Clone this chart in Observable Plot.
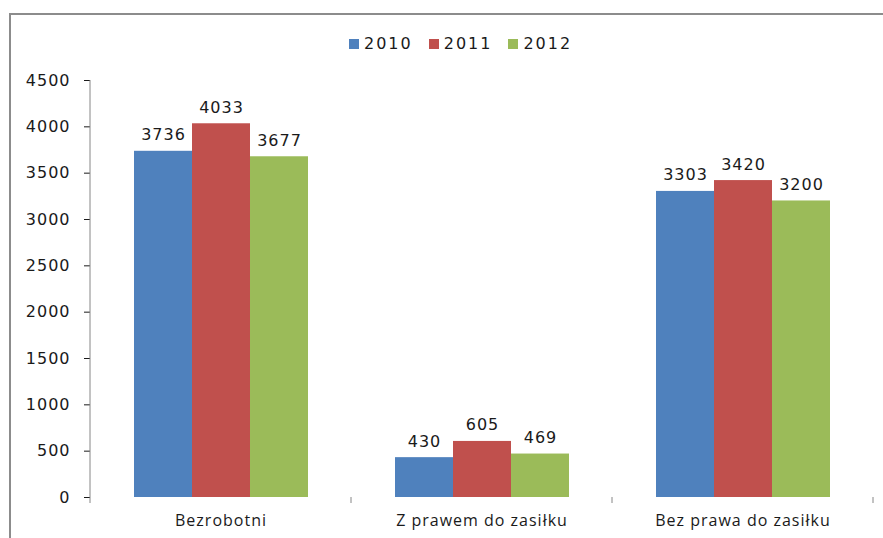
<!DOCTYPE html>
<html>
<head>
<meta charset="utf-8">
<script src="https://cdn.jsdelivr.net/npm/d3@7"></script>
<script src="https://cdn.jsdelivr.net/npm/@observablehq/plot@0.6"></script>
<style>
  html, body { margin: 0; padding: 0; background: #fff; overflow: hidden; }
  #wrap { position: relative; width: 883px; height: 538px; }
  #frame { position: absolute; left: 9px; top: 13px; width: 900px; height: 600px;
           border-left: 2px solid #8c8c8c; border-top: 2px solid #8c8c8c; pointer-events: none; }
  #legend { position: absolute; left: 349px; top: 34px; display: flex; align-items: center;
            font-family: "DejaVu Sans", sans-serif; font-size: 16px; letter-spacing: 2px; color: #1a1a1a; }
  #legend .item { display: flex; align-items: center; margin-right: 16px; }
  #legend .sw { width: 10px; height: 10px; margin-right: 5px; }
  #chart { position: absolute; left: 0; top: 0; }
  #chart svg [aria-label="fx-axis tick label"] text { font-family: "Open Sans", sans-serif; font-size: 16px; }
</style>
</head>
<body>
<div id="wrap">
  <div id="chart"></div>
  <div id="frame"></div>
  <div id="legend"></div>
</div>
<script>
const categories = ["Bezrobotni", "Z prawem do zasiłku", "Bez prawa do zasiłku"];
const years = ["2010", "2011", "2012"];
const values2010 = [3736, 430, 3303];
const values2011 = [4033, 605, 3420];
const values2012 = [3677, 469, 3200];
const yTicks = [0, 500, 1000, 1500, 2000, 2500, 3000, 3500, 4000, 4500];
const colors = ["#4F81BD", "#C0504D", "#9BBB59"];

const series = [values2010, values2011, values2012];
const data = [];
categories.forEach((c, i) => years.forEach((yr, j) => data.push({category: c, year: yr, value: series[j][i]})));

const plot = Plot.plot({
  width: 883,
  height: 538,
  marginLeft: 90,
  marginRight: 10,
  marginTop: 80,
  marginBottom: 41,
  style: {fontFamily: "DejaVu Sans, sans-serif", fontSize: "16px", color: "#1a1a1a", background: "transparent", letterSpacing: "1px"},
  fx: {domain: categories, padding: 0, label: null, axis: "bottom", tickSize: 0, tickPadding: 17},
  x: {domain: years, paddingInner: 0, paddingOuter: 0.75, axis: null},
  y: {domain: [0, 4500], ticks: yTicks, tickSize: 6, tickPadding: 14, tickFormat: d => String(d), label: null},
  color: {domain: years, range: colors},
  marks: [
    Plot.barY(data, {fx: "category", x: "year", y: "value", fill: "year"}),
    Plot.text(data, {fx: "category", x: "year", y: "value", text: d => String(d.value), dy: -11, lineAnchor: "bottom", fontSize: 16, fill: "#1a1a1a"})
  ]
});

document.getElementById("chart").appendChild(plot);

// Axis decorations computed from Plot's scales
const fx = plot.scale("fx");
const y = plot.scale("y");
const svg = d3.select(plot);
svg.selectAll('[aria-label="y-axis tick"]').attr("stroke", "#868686");
const y0 = y.apply(0);
const yTop = y.apply(yTicks[yTicks.length - 1]);
const left = fx.apply(categories[0]);
const deco = svg.append("g").attr("stroke", "#868686").attr("stroke-width", 1);
deco.append("line").attr("x1", left).attr("x2", left).attr("y1", yTop).attr("y2", y0 + 6);
categories.forEach(c => {
  const xr = fx.apply(c) + fx.bandwidth;
  deco.append("line").attr("x1", xr).attr("x2", xr).attr("y1", y0).attr("y2", y0 + 6);
});

// Legend
const legend = document.getElementById("legend");
years.forEach((yr, i) => {
  const item = document.createElement("div");
  item.className = "item";
  const sw = document.createElement("div");
  sw.className = "sw";
  sw.style.background = colors[i];
  const t = document.createElement("span");
  t.textContent = yr;
  item.appendChild(sw);
  item.appendChild(t);
  legend.appendChild(item);
});
</script>
</body>
</html>
